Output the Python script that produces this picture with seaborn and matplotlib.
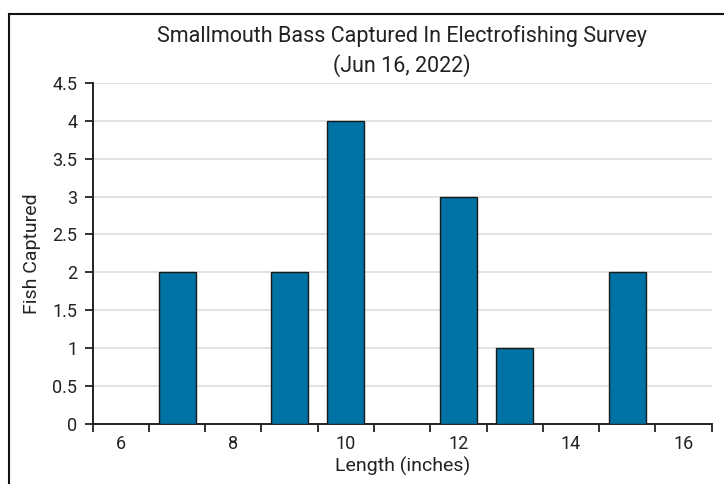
import numpy as np
import pandas as pd
import matplotlib
matplotlib.use('Agg')
import matplotlib.pyplot as plt
import matplotlib.ticker as mticker
import seaborn as sns

# survey data
length_in = [7, 9, 10, 12, 13, 15]
fish_count = [2, 2, 4, 3, 1, 2]
x_labels = [6, 8, 10, 12, 14, 16]
y_ticks = [0, 0.5, 1, 1.5, 2, 2.5, 3, 3.5, 4, 4.5]

sns.set_theme(style='white')
plt.rcParams['font.family'] = ['Roboto', 'DejaVu Sans']

df = pd.DataFrame({'Length (inches)': length_in, 'Fish Captured': fish_count})

fig = plt.figure(figsize=(7.24, 4.84), dpi=100)
ax = fig.add_axes([0.128, 0.124, 0.855, 0.705])

sns.barplot(data=df, x='Length (inches)', y='Fish Captured', native_scale=True,
            color='#0072A3', saturation=1, width=0.66,
            edgecolor='#1a1a1a', linewidth=1, ax=ax, zorder=3)

ax.set_xlim(5.5, 16.5)
ax.set_ylim(0, 4.5)

# tick marks at bin edges, labels centred on even lengths
ax.xaxis.set_major_locator(mticker.FixedLocator(np.arange(5.5, 17, 1)))
ax.xaxis.set_major_formatter(mticker.NullFormatter())
ax.xaxis.set_minor_locator(mticker.FixedLocator(x_labels))
ax.xaxis.set_minor_formatter(mticker.FixedFormatter([str(v) for v in x_labels]))
ax.tick_params(axis='x', which='major', direction='out', length=6, width=1.3, color='#222222', bottom=True)
ax.tick_params(axis='x', which='minor', length=0, labelsize=13, pad=8, labelcolor='#222222', bottom=True)

ax.set_yticks(y_ticks)
ax.set_yticklabels(['0', '0.5', '1', '1.5', '2', '2.5', '3', '3.5', '4', '4.5'])
ax.tick_params(axis='y', direction='out', length=6, width=1.3, color='#222222', left=True,
               labelsize=13, labelcolor='#222222', pad=5)

ax.yaxis.grid(True, color='#dddddd', linewidth=1.2, zorder=0)
ax.set_axisbelow(True)

for s in ['top', 'right']:
    ax.spines[s].set_visible(False)
ax.spines['left'].set_color('#222222')
ax.spines['bottom'].set_color('#222222')
ax.spines['left'].set_linewidth(1.4)
ax.spines['bottom'].set_linewidth(1.4)

ax.set_xlabel('Length (inches)', fontsize=14, color='#222222', labelpad=3)
ax.set_ylabel('Fish Captured', fontsize=14, color='#222222', labelpad=8)
ax.set_title('Smallmouth Bass Captured In Electrofishing Survey\n(Jun 16, 2022)',
             fontsize=15.5, color='#222222', pad=8, linespacing=1.4)

# outer frame (only top and left show in the crop)
fig.add_artist(plt.Rectangle((9 / 724, -0.1), 1.2, 1.1 - 14 / 484, transform=fig.transFigure,
                             fill=False, edgecolor='#111111', linewidth=1.5))

fig.savefig('out.png', dpi=100, facecolor='white')
